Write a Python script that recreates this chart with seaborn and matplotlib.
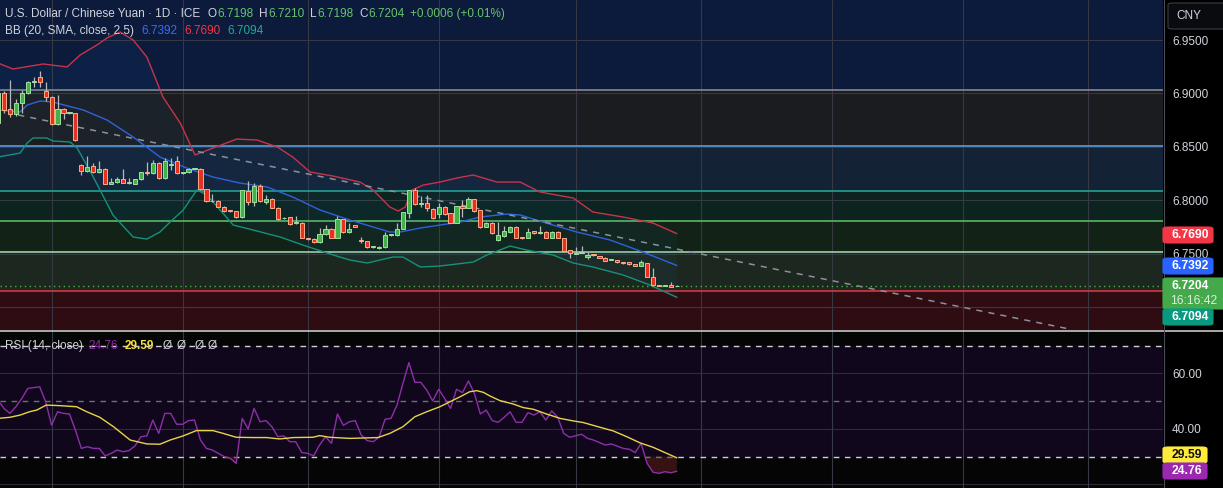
import numpy as np
import pandas as pd
import matplotlib
matplotlib.use("Agg")
import matplotlib.pyplot as plt
import seaborn as sns
from matplotlib.patches import FancyBboxPatch
from matplotlib.lines import Line2D

# ---------------- data ----------------
opens = [6.8724, 6.9004, 6.8855, 6.8808, 6.8911, 6.9004, 6.9107, 6.9154, 6.9023, 6.8967,
         6.8715, 6.8855, 6.8817, 6.8817, 6.8331, 6.8275, 6.8322, 6.8266, 6.8294, 6.8154,
         6.8172, 6.8200, 6.8163, 6.8154, 6.8200, 6.8266, 6.8256, 6.8350, 6.8210, 6.8331,
         6.8369, 6.8256, 6.8266, 6.8294, 6.8294, 6.8107, 6.7995, 6.7995, 6.7939, 6.7903,
         6.7901, 6.7845, 6.8088, 6.7985, 6.8135, 6.7985, 6.8013, 6.7929, 6.7833, 6.7845,
         6.7789, 6.7789, 6.7641, 6.7639, 6.7611, 6.7686, 6.7733, 6.7649, 6.7826, 6.7705,
         6.7770, 6.7623, 6.7621, 6.7565, 6.7555, 6.7565, 6.7677, 6.7677, 6.7733, 6.7882,
         6.8097, 6.7967, 6.7976, 6.7920, 6.7873, 6.7939, 6.7882, 6.7789, 6.7948, 6.7929,
         6.8013, 6.7910, 6.7752, 6.7789, 6.7630, 6.7667, 6.7705, 6.7752, 6.7658, 6.7649,
         6.7714, 6.7695, 6.7705, 6.7649, 6.7705, 6.7649, 6.7536, 6.7499, 6.7508, 6.7471,
         6.7492, 6.7480, 6.7462, 6.7443, 6.7443, 6.7424, 6.7424, 6.7406, 6.7387, 6.7415,
         6.7284, 6.7202, 6.7200, 6.7209, 6.7198]
highs = [6.9032, 6.9023, 6.9126, 6.8948, 6.9032, 6.9117, 6.9154, 6.9210, 6.9107, 6.8980,
         6.8986, 6.8860, 6.8825, 6.8820, 6.8341, 6.8415, 6.8350, 6.8369, 6.8300, 6.8210,
         6.8220, 6.8294, 6.8210, 6.8205, 6.8270, 6.8359, 6.8378, 6.8355, 6.8397, 6.8397,
         6.8415, 6.8265, 6.8300, 6.8303, 6.8300, 6.8110, 6.8060, 6.8000, 6.7945, 6.7906,
         6.7905, 6.8100, 6.8182, 6.8163, 6.8150, 6.8050, 6.8020, 6.7935, 6.7845, 6.7850,
         6.7855, 6.7795, 6.7645, 6.7645, 6.7742, 6.7770, 6.7740, 6.7855, 6.7830, 6.7789,
         6.7775, 6.7658, 6.7625, 6.7570, 6.7570, 6.7705, 6.7685, 6.7789, 6.7895, 6.8100,
         6.8116, 6.8041, 6.8050, 6.7925, 6.7976, 6.7945, 6.7885, 6.7950, 6.8004, 6.8032,
         6.8018, 6.7915, 6.7795, 6.7795, 6.7798, 6.7761, 6.7760, 6.7758, 6.7662, 6.7742,
         6.7718, 6.7761, 6.7710, 6.7710, 6.7710, 6.7652, 6.7540, 6.7565, 6.7574, 6.7518,
         6.7495, 6.7485, 6.7468, 6.7448, 6.7448, 6.7428, 6.7428, 6.7410, 6.7443, 6.7420,
         6.7370, 6.7205, 6.7214, 6.7237, 6.7210]
lows = [6.8705, 6.8817, 6.8780, 6.8790, 6.8817, 6.8995, 6.9061, 6.9061, 6.8930, 6.8705,
        6.8705, 6.8761, 6.8810, 6.8560, 6.8238, 6.8266, 6.8260, 6.8260, 6.8150, 6.8150,
        6.8165, 6.8160, 6.8154, 6.8150, 6.8195, 6.8238, 6.8250, 6.8205, 6.8205, 6.8285,
        6.8250, 6.8250, 6.8260, 6.8290, 6.8100, 6.7990, 6.7985, 6.7935, 6.7895, 6.7896,
        6.7840, 6.7840, 6.7957, 6.7948, 6.7990, 6.7967, 6.7925, 6.7820, 6.7826, 6.7775,
        6.7780, 6.7645, 6.7635, 6.7605, 6.7605, 6.7680, 6.7645, 6.7645, 6.7700, 6.7700,
        6.7748, 6.7602, 6.7560, 6.7560, 6.7550, 6.7560, 6.7672, 6.7672, 6.7730, 6.7836,
        6.7960, 6.7939, 6.7901, 6.7830, 6.7836, 6.7868, 6.7785, 6.7785, 6.7845, 6.7925,
        6.7896, 6.7745, 6.7748, 6.7690, 6.7625, 6.7660, 6.7700, 6.7645, 6.7642, 6.7645,
        6.7690, 6.7690, 6.7645, 6.7645, 6.7645, 6.7522, 6.7462, 6.7495, 6.7505, 6.7455,
        6.7485, 6.7458, 6.7430, 6.7440, 6.7420, 6.7410, 6.7400, 6.7383, 6.7383, 6.7280,
        6.7205, 6.7196, 6.7196, 6.7188, 6.7198]
closes = [6.9004, 6.8845, 6.8808, 6.8911, 6.9004, 6.9107, 6.9110, 6.9107, 6.8967, 6.8715,
          6.8855, 6.8817, 6.8820, 6.8565, 6.8275, 6.8313, 6.8266, 6.8294, 6.8154, 6.8172,
          6.8200, 6.8163, 6.8165, 6.8200, 6.8266, 6.8256, 6.8350, 6.8210, 6.8369, 6.8335,
          6.8256, 6.8258, 6.8294, 6.8296, 6.8107, 6.7995, 6.7992, 6.7939, 6.7901, 6.7900,
          6.7845, 6.8097, 6.7985, 6.8135, 6.7995, 6.8013, 6.7929, 6.7826, 6.7836, 6.7780,
          6.7790, 6.7649, 6.7639, 6.7611, 6.7686, 6.7733, 6.7649, 6.7826, 6.7705, 6.7733,
          6.7752, 6.7621, 6.7565, 6.7567, 6.7565, 6.7677, 6.7680, 6.7733, 6.7892, 6.8097,
          6.7967, 6.7969, 6.7929, 6.7836, 6.7939, 6.7873, 6.7789, 6.7948, 6.7929, 6.8013,
          6.7901, 6.7752, 6.7789, 6.7695, 6.7677, 6.7714, 6.7752, 6.7649, 6.7649, 6.7705,
          6.7695, 6.7705, 6.7649, 6.7705, 6.7649, 6.7527, 6.7508, 6.7508, 6.7510, 6.7490,
          6.7490, 6.7462, 6.7434, 6.7445, 6.7424, 6.7415, 6.7406, 6.7387, 6.7424, 6.7284,
          6.7209, 6.7200, 6.7209, 6.7191, 6.7204]

bb_upper_idx = [0, 2.5, 7.6, 11.6, 13.8, 16.6, 18.3, 20.5, 22.7, 25.0, 27.7, 30.6, 33.1, 36.1,
                40.1, 43.5, 46.9, 49.5, 52.4, 56.3, 60.8, 63.0, 65.8, 67.2, 68.4, 69.5, 71.4,
                74.2, 77.1, 79.8, 83.8, 87.7, 91.0, 96.6, 99.9, 105.0, 110.0, 114]
bb_upper = [6.9285, 6.9229, 6.9276, 6.9248, 6.9360, 6.9453, 6.9519, 6.9575, 6.9500, 6.9341,
            6.8967, 6.8724, 6.8425, 6.8490, 6.8574, 6.8565, 6.8500, 6.8406, 6.8266, 6.8228,
            6.8172, 6.8097, 6.7939, 6.7901, 6.7939, 6.8097, 6.8144, 6.8172, 6.8210, 6.8238,
            6.8172, 6.8172, 6.8079, 6.8023, 6.7892, 6.7845, 6.7789, 6.7690]
bb_mid_idx = [0, 3.7, 4.9, 7.1, 9.2, 14.3, 18.3, 22.7, 27.2, 31.7, 36.1, 40.6, 45.2, 49.5,
              54.1, 59.1, 65.8, 67.5, 70.9, 74.2, 77.6, 80.9, 85.5, 87.7, 91.5, 97.2, 102.8,
              108.3, 114]
bb_mid = [6.8846, 6.8827, 6.8892, 6.8930, 6.8920, 6.8846, 6.8752, 6.8593, 6.8406, 6.8303,
          6.8219, 6.8163, 6.8126, 6.8032, 6.7910, 6.7817, 6.7705, 6.7705, 6.7742, 6.7770,
          6.7798, 6.7845, 6.7873, 6.7864, 6.7798, 6.7705, 6.7630, 6.7518, 6.7392]
bb_lower_idx = [0, 3.7, 4.9, 5.9, 8.2, 9.2, 12.1, 13.3, 16.0, 19.3, 22.7, 25.0, 27.2, 28.9,
                31.1, 33.4, 35.1, 39.5, 42.8, 47.4, 51.2, 56.3, 59.1, 62.0, 66.3, 68.0, 70.9,
                74.2, 79.8, 82.1, 86.0, 88.8, 93.2, 96.6, 99.9, 105.0, 109.5, 114]
bb_lower = [6.8406, 6.8443, 6.8537, 6.8584, 6.8584, 6.8556, 6.8546, 6.8490, 6.8219, 6.7864,
            6.7658, 6.7639, 6.7705, 6.7798, 6.7910, 6.8098, 6.8051, 6.7770, 6.7724, 6.7658,
            6.7583, 6.7490, 6.7443, 6.7415, 6.7471, 6.7471, 6.7378, 6.7387, 6.7424, 6.7490,
            6.7574, 6.7536, 6.7490, 6.7415, 6.7378, 6.7303, 6.7209, 6.7094]

rsi_idx = [0, 1, 2, 3, 4, 5, 7, 8, 9, 10, 11, 12, 13, 14, 15, 16, 17, 18, 19, 20,
           21, 22, 23, 24, 25, 26, 27, 28, 29, 30, 31, 32, 33, 34, 35, 36, 38, 39, 40, 41,
           42, 43, 44, 45, 46, 47, 48, 49, 50, 51, 52, 53, 54, 55, 56, 57, 58, 59, 60, 61,
           62, 63, 64, 65, 66, 67, 68, 69, 70, 71, 72, 73, 74, 75, 76, 77, 78, 79, 80, 81,
           82, 83, 84, 85, 86, 87, 88, 89, 90, 91, 92, 93, 94, 95, 96, 98, 99, 100, 102, 103,
           105, 106, 107, 108, 109, 110, 111, 112, 113, 114]
rsi_vals = [50.4, 47.4, 45.6, 48.0, 51.0, 54.6, 55.2, 49.8, 41.4, 46.2, 45.6, 45.4, 39.6, 33.0,
            33.6, 33.0, 33.0, 30.3, 31.2, 32.4, 31.8, 32.2, 33.9, 37.2, 37.5, 43.2, 38.4, 45.6,
            45.6, 41.7, 41.7, 43.0, 43.2, 36.0, 33.0, 32.4, 30.0, 29.4, 27.6, 43.8, 40.0, 47.4,
            42.6, 43.0, 40.8, 37.2, 37.5, 35.4, 35.4, 31.5, 31.2, 30.3, 34.2, 37.2, 34.8, 45.4,
            41.3, 42.6, 43.0, 37.8, 35.8, 35.4, 37.0, 43.5, 43.8, 48.6, 56.4, 63.9, 56.8, 56.8,
            54.0, 50.1, 54.3, 51.0, 47.4, 54.3, 53.1, 57.3, 52.8, 45.4, 46.8, 43.0, 42.4, 44.2,
            46.2, 42.4, 42.4, 45.9, 45.0, 46.2, 43.2, 46.5, 44.2, 38.4, 37.0, 38.1, 36.6, 36.0,
            34.2, 34.6, 33.0, 32.7, 31.5, 34.8, 27.6, 24.4, 24.0, 24.6, 24.2, 24.76]
rsi_ma_idx = [0, 2.0, 3.7, 5.3, 6.5, 8.1, 10.4, 13.2, 14.9, 17.1, 19.4, 22.2, 25.0, 27.2,
              28.9, 31.1, 33.3, 36.1, 37.8, 40.0, 42.8, 45.1, 47.3, 49.6, 52.9, 54.0, 55.7,
              59.1, 63.8, 65.8, 68.0, 70.0, 72.0, 74.2, 75.9, 77.6, 79.2, 80.4, 81.5, 82.6,
              84.3, 86.5, 88.2, 89.9, 92.1, 94.4, 96.6, 98.3, 101.1, 103.3, 105.6, 107.8,
              110.0, 112.3, 114]
rsi_ma = [43.8, 44.2, 45.0, 46.2, 46.8, 48.6, 48.4, 48.0, 46.2, 44.2, 40.8, 36.0, 34.6, 34.5,
          36.0, 37.5, 39.4, 39.4, 38.4, 37.0, 36.9, 36.9, 36.4, 36.9, 37.0, 37.6, 37.0, 36.6,
          36.9, 38.4, 40.8, 44.4, 46.2, 48.0, 49.8, 51.6, 53.4, 53.8, 53.2, 51.9, 50.2, 49.0,
          47.7, 47.1, 45.4, 43.8, 42.9, 42.3, 40.6, 39.3, 37.2, 35.0, 33.4, 31.2, 29.59]

zone_edges = [7.0000, 6.9033, 6.8506, 6.8091, 6.7805, 6.7515, 6.7156, 6.6000]
zone_fills = ['#0c1a3c', '#1b1c20', '#142236', '#0c231f', '#122216', '#1c271f', '#2e0c12']
zone_lines = [6.9033, 6.8506, 6.8091, 6.7805, 6.7515, 6.7156]
zone_line_colors = ['#85878e', '#5f9ad6', '#27a08e', '#5cb860', '#9bd39c', '#d3383c']

trend_x = [3.4, 179.5]
trend_y = [6.8799, 6.6803]

price_ticks = [6.75, 6.80, 6.85, 6.90, 6.95]
price_grid = [6.70, 6.75, 6.80, 6.85, 6.90, 6.95]
rsi_ticks = [40, 60]
rsi_grid = [20, 40, 60]
month_starts = [9, 31, 52, 74, 97, 118, 140, 162, 183]
last_price = 6.7204

# ---------------- figure ----------------
sns.set_theme(style="dark")
plt.rcParams['font.family'] = ['Liberation Sans', 'DejaVu Sans']

W, H = 1223, 488
fig = plt.figure(figsize=(W / 100, H / 100), dpi=100, facecolor='#000000')
AXW = 1163 / W
ax = fig.add_axes([0, 1 - 330 / H, AXW, 330 / H])
axr = fig.add_axes([0, 0, AXW, 157 / H])

GRID = '#363944'
TXT = '#d1d4dc'

# ---- price panel ----
ax.set_xlim(0.336, 195.64)
ax.set_ylim(6.6789, 6.9874)
for lo, hi, c in zip(zone_edges[1:], zone_edges[:-1], zone_fills):
    ax.axhspan(lo, hi, color=c, lw=0, zorder=0)
for g in price_grid:
    ax.axhline(g, color=GRID, lw=0.8, zorder=1)
for m in month_starts:
    ax.axvline(m, color=GRID, lw=0.8, zorder=1)
for lvl, c in zip(zone_lines, zone_line_colors):
    ax.axhline(lvl, color=c, lw=1.2, zorder=2)

# Bollinger fill
ax.fill(np.r_[bb_upper_idx, bb_lower_idx[::-1]], np.r_[bb_upper, bb_lower[::-1]],
        color='#2196f3', alpha=0.05, lw=0, zorder=2)
sns.lineplot(x=bb_upper_idx, y=bb_upper, ax=ax, color='#c8334b', lw=1, estimator=None, zorder=3)
sns.lineplot(x=bb_mid_idx, y=bb_mid, ax=ax, color='#2f62dc', lw=1, estimator=None, zorder=3)
sns.lineplot(x=bb_lower_idx, y=bb_lower, ax=ax, color='#16917a', lw=1, estimator=None, zorder=3)

ax.plot(trend_x, trend_y, color='#8d9099', lw=1.1, ls=(0, (4, 4)), zorder=3)
ax.axhline(last_price, color='#4caf50', lw=1, ls=(0, (1, 2.5)), zorder=3)

o = np.array(opens); c = np.array(closes); h = np.array(highs); l = np.array(lows)
xs = np.arange(len(o))
up = c >= o
ax.vlines(xs, l, h, color='#b9b9b9', lw=0.9, zorder=4)
body_lo = np.minimum(o, c)
body_h = np.maximum(np.abs(c - o), 0.0007)
ax.bar(xs[up], body_h[up], bottom=body_lo[up], width=0.7, color='#43b04a',
       edgecolor='#9de0a0', linewidth=0.7, zorder=5)
ax.bar(xs[~up], body_h[~up], bottom=body_lo[~up], width=0.7, color='#e3321f',
       edgecolor='#ffab8a', linewidth=0.7, zorder=5)

ax.yaxis.tick_right()
ax.set_yticks(price_ticks)
ax.set_yticklabels([f'{t:.4f}' for t in price_ticks])
ax.tick_params(axis='y', length=0, pad=6.5, labelsize=8.5, labelcolor=TXT)
ax.set_xticks([])
ax.set_xlabel(''); ax.set_ylabel('')
for s in ax.spines.values():
    s.set_visible(False)
ax.grid(False)

# ---- RSI panel ----
axr.set_xlim(0.336, 195.64)
axr.set_ylim(18.72, 75.3)
axr.set_facecolor('#050505')
axr.axhspan(30, 70, color='#10071d', lw=0, zorder=0)
for g in rsi_grid:
    axr.axhline(g, color='#2f2a3a', lw=0.8, zorder=1)
for m in month_starts:
    axr.axvline(m, color=GRID, lw=0.8, zorder=1)
axr.axhline(70, color='#d0d0d0', lw=1, ls=(0, (4, 4)), zorder=2)
axr.axhline(30, color='#d0d0d0', lw=1, ls=(0, (4, 4)), zorder=2)
axr.axhline(50, color='#6f6f78', lw=1, ls=(0, (4, 4)), zorder=2)
rv = np.array(rsi_vals, dtype=float)
axr.fill_between(rsi_idx, rv, 30, where=rv < 30, interpolate=True,
                 color='#5a1c1c', alpha=0.6, lw=0, zorder=2)
sns.lineplot(x=rsi_idx, y=rsi_vals, ax=axr, color='#8e2fa8', lw=1, estimator=None, zorder=3)
sns.lineplot(x=rsi_ma_idx, y=rsi_ma, ax=axr, color='#e8d447', lw=1, estimator=None, zorder=4)
axr.yaxis.tick_right()
axr.set_yticks(rsi_ticks)
axr.set_yticklabels([f'{t:.2f}' for t in rsi_ticks])
axr.tick_params(axis='y', length=0, pad=6.5, labelsize=8.5, labelcolor=TXT)
axr.set_xticks([])
axr.set_xlabel(''); axr.set_ylabel('')
for s in axr.spines.values():
    s.set_visible(False)
axr.grid(False)

# ---- separators ----
def fx(px):
    return px / W

def fy(py):
    return 1 - py / H

fig.add_artist(Line2D([0, 1], [fy(330.5), fy(330.5)], color='#d8d8d8', lw=1.1))
fig.add_artist(Line2D([fx(1163.5), fx(1163.5)], [0, 1], color='#4a4d56', lw=0.8))

# ---- legends ----
def put(text, px, py, color, size=8.5, weight='normal'):
    fig.text(fx(px), fy(py), text, color=color, fontsize=size, ha='left', va='center',
             fontweight=weight)

GREEN_T = '#66c46a'
put('U.S. Dollar / Chinese Yuan · 1D · ICE', 5, 14, TXT)
for lab, px in [('O', 208), ('H', 259), ('L', 310), ('C', 359)]:
    put(lab, px, 14, TXT)
for val, px in [('6.7198', 217), ('6.7210', 268), ('6.7198', 317), ('6.7204', 368),
                ('+0.0006 (+0.01%)', 410)]:
    put(val, px, 14, GREEN_T)
put('BB (20, SMA, close, 2.5)', 5, 31, TXT)
put('6.7392', 141, 31, '#3a6df0')
put('6.7690', 184, 31, '#f23645')
put('6.7094', 227, 31, '#22ab94')

put('RSI (14, close)', 5, 346, TXT)
put('24.76', 88, 346, '#8e2fa5')
put('29.59', 125, 346, '#f5e03c', weight='bold')
for px in [163, 177, 195, 208]:
    put('Ø', px, 346, TXT)

# ---- axis boxes ----
def box(x0, y0, x1, y1, fc, ec=None):
    p = FancyBboxPatch((fx(x0), fy(y1)), fx(x1) - fx(x0), fy(y0) - fy(y1),
                       boxstyle='round,pad=0,rounding_size=0.004',
                       transform=fig.transFigure, facecolor=fc,
                       edgecolor=ec if ec else fc, lw=0.8, zorder=10)
    fig.add_artist(p)

box(1168, 3, 1230, 29, '#0a0b10', '#3a3d46')
fig.text(fx(1176), fy(16), 'CNY', color=TXT, fontsize=8.5, va='center', ha='left', zorder=11)

labels = [
    (227, 243, '#f23645', ['6.7690'], '#ffffff', 1213),
    (258, 274, '#2962ff', ['6.7392'], '#ffffff', 1213),
    (278, 309, '#43a94a', ['6.7204', '16:16:42'], '#ffffff', 1230),
    (309, 325, '#089981', ['6.7094'], '#ffffff', 1213),
    (447, 463, '#ffeb3b', ['29.59'], '#111111', 1207),
    (463, 479, '#9c27b0', ['24.76'], '#ffffff', 1207),
]
for y0, y1, fc, lines_, tc, x1 in labels:
    box(1163, y0, x1, y1, fc)
    if len(lines_) == 1:
        fig.text(fx(1172), fy((y0 + y1) / 2), lines_[0], color=tc, fontsize=8.7,
                 va='center', ha='left', fontweight='bold', zorder=11)
    else:
        fig.text(fx(1172), fy(y0 + 8), lines_[0], color=tc, fontsize=8.7,
                 va='center', ha='left', fontweight='bold', zorder=11)
        fig.text(fx(1170), fy(y0 + 23), lines_[1], color='#d8f0d8', fontsize=8.7,
                 va='center', ha='left', zorder=11)

fig.savefig('out.png', dpi=100, facecolor=fig.get_facecolor())
